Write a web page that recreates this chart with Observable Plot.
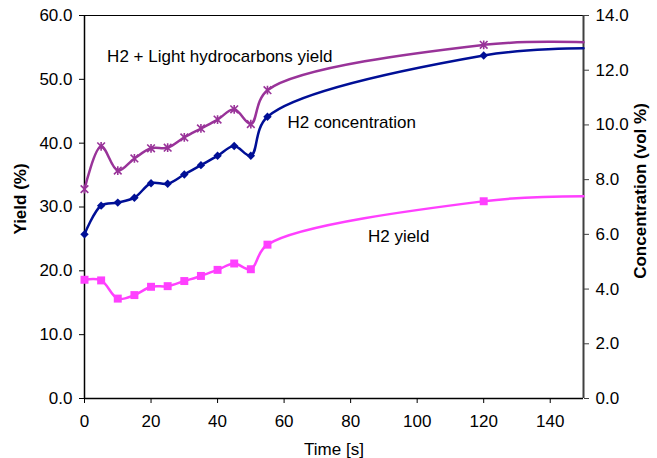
<!DOCTYPE html>
<html><head><meta charset="utf-8">
<script src="https://cdn.jsdelivr.net/npm/d3@7"></script>
<script src="https://cdn.jsdelivr.net/npm/@observablehq/plot@0.6"></script>
<style>
body{margin:0;background:#fff;}
</style></head><body><div id="chart"></div>
<script>
// Time (s); last entry is where the smoothed curves meet the right edge (no marker there)
const time = [0, 5, 10, 15, 20, 25, 30, 35, 40, 45, 50, 55, 120, 150];
const hasMarker = [1, 1, 1, 1, 1, 1, 1, 1, 1, 1, 1, 1, 1, 0];
// H2 + Light hydrocarbons yield (%) - left axis
const h2LightYield = [32.8, 39.5, 35.7, 37.6, 39.2, 39.3, 40.9, 42.3, 43.7, 45.3, 43.0, 48.3, 55.4, 55.8];
// H2 concentration (vol %) - right axis
const h2Conc = [6.0, 7.05, 7.16, 7.34, 7.87, 7.85, 8.19, 8.53, 8.87, 9.23, 8.87, 10.3, 12.54, 12.8];
// H2 yield (%) - left axis
const h2Yield = [18.6, 18.5, 15.65, 16.2, 17.5, 17.6, 18.4, 19.2, 20.15, 21.15, 20.25, 24.1, 30.9, 31.7];

const xTicks = [0, 20, 40, 60, 80, 100, 120, 140];
const yieldTicks = [0, 10, 20, 30, 40, 50, 60];
const concTicks = [0, 2, 4, 6, 8, 10, 12, 14];
const yieldMax = 60, concMax = 14, timeMax = 150;

const labels = [
  {text: "H2 + Light hydrocarbons yield", t: 6.8, v: 53.6},
  {text: "H2 concentration", t: 61, v: 43.3},
  {text: "H2 yield", t: 85.2, v: 25.4}
];

const toY = c => c * yieldMax / concMax;
const rows = time.map((t, i) => ({t, a: h2LightYield[i], c: toY(h2Conc[i]), b: h2Yield[i], m: hasMarker[i]}));
const pts = rows.filter(d => d.m);

const cPurple = "#993399", cBlue = "#000f96", cPink = "#ff40ff";

const excelStar = {
  draw(ctx, size) {
    const r = Math.sqrt(size) / 2;
    ctx.moveTo(-r, -r); ctx.lineTo(r, r);
    ctx.moveTo(r, -r); ctx.lineTo(-r, r);
    ctx.moveTo(0, -r * 1.15); ctx.lineTo(0, r * 1.15);
  }
};

const font = "'Liberation Sans', Arial, sans-serif";
const fs = 17;

const chart = Plot.plot({
  width: 657, height: 458,
  marginLeft: 84, marginRight: 74, marginTop: 15, marginBottom: 60,
  style: {fontFamily: font, fontSize: fs + "px", color: "#000", background: "#fff"},
  x: {domain: [0, timeMax]},
  y: {domain: [0, yieldMax]},
  marks: [
    Plot.axisX({ticks: xTicks, tickSize: 5, tickPadding: 11, label: null, fontSize: fs}),
    Plot.axisY({ticks: yieldTicks, tickSize: 5, tickPadding: 7, tickFormat: d => d.toFixed(1), label: null, fontSize: fs}),
    Plot.axisY({anchor: "right", ticks: concTicks.map(toY), tickSize: 5, tickPadding: 7,
      tickFormat: d => (d * concMax / yieldMax).toFixed(1), label: null, fontSize: fs, stroke: "#404040"}),
    Plot.ruleY([yieldMax], {stroke: "#000", strokeWidth: 1}),
    Plot.ruleY([0], {stroke: "#000", strokeWidth: 1.5}),
    Plot.ruleX([0], {stroke: "#000", strokeWidth: 1.5}),
    Plot.ruleX([timeMax], {stroke: "#404040", strokeWidth: 2}),
    Plot.line(rows, {x: "t", y: "b", stroke: cPink, strokeWidth: 2.5, curve: "catmull-rom"}),
    Plot.line(rows, {x: "t", y: "c", stroke: cBlue, strokeWidth: 2.5, curve: "catmull-rom"}),
    Plot.line(rows, {x: "t", y: "a", stroke: cPurple, strokeWidth: 2.5, curve: "catmull-rom"}),
    Plot.dot(pts, {x: "t", y: "b", symbol: "square", r: 4.5, fill: cPink, stroke: "none"}),
    Plot.dot(pts, {x: "t", y: "c", symbol: "diamond2", r: 3.8, fill: cBlue, stroke: "none"}),
    Plot.dot(pts, {x: "t", y: "a", symbol: excelStar, r: 4.3, fill: "none", stroke: cPurple, strokeWidth: 1.6}),
    Plot.text(labels, {x: "t", y: "v", text: "text", textAnchor: "start", fontSize: fs, fill: "#000"}),
    Plot.text(["Yield (%)"], {frameAnchor: "left", textAnchor: "middle", lineAnchor: "middle", rotate: -90, dx: -64, dy: -8, fontWeight: "bold", fontSize: fs}),
    Plot.text(["Concentration (vol %)"], {frameAnchor: "right", textAnchor: "middle", lineAnchor: "middle", rotate: -90, dx: 57, dy: -16, fontWeight: "bold", fontSize: fs}),
    Plot.text(["Time [s]"], {frameAnchor: "bottom", textAnchor: "middle", lineAnchor: "middle", dy: 51, fontSize: fs})
  ]
});
document.getElementById("chart").appendChild(chart);
</script>
</body></html>
